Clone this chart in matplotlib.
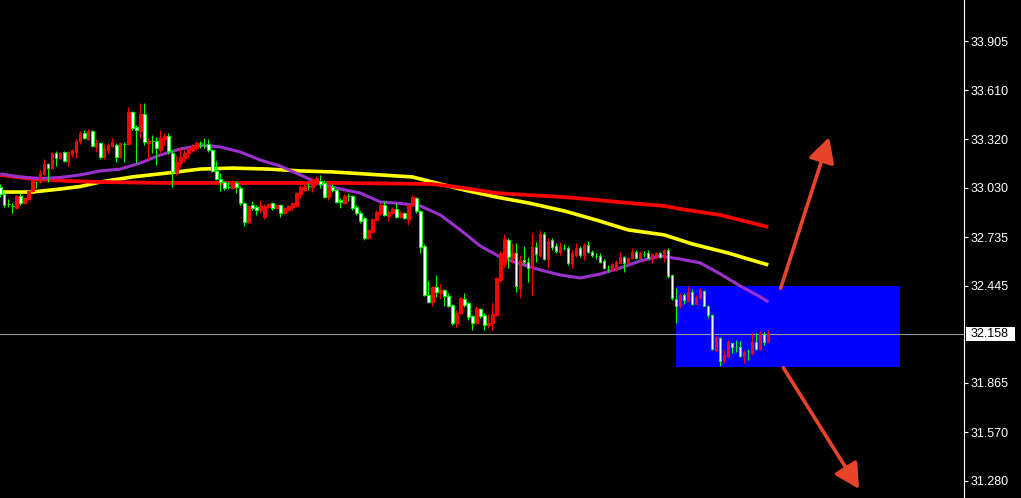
import numpy as np
import matplotlib.pyplot as plt
from matplotlib.patches import Rectangle

plt.rcParams['font.family'] = ['Liberation Sans', 'DejaVu Sans']

# OHLC bars, one per candle index
opens = [33.034, 32.992, 32.933, 32.921, 32.909, 32.980, 32.939, 32.962, 33.010, 33.064,
         33.064, 33.112, 33.171, 33.147, 33.237, 33.207, 33.243, 33.183, 33.231, 33.243,
         33.309, 33.356, 33.320, 33.368, 33.273, 33.297, 33.213, 33.255, 33.279, 33.285,
         33.213, 33.291, 33.291, 33.482, 33.392, 33.368, 33.470, 33.297, 33.309, 33.309,
         33.255, 33.320, 33.338, 33.237, 33.124, 33.177, 33.207, 33.237, 33.255, 33.267,
         33.297, 33.285, 33.291, 33.255, 33.130, 33.082, 33.064, 33.034, 33.028, 33.058,
         33.028, 32.939, 32.825, 32.927, 32.915, 32.897, 32.855, 32.915, 32.939, 32.909,
         32.927, 32.879, 32.897, 32.915, 32.921, 32.992, 33.016, 33.040, 33.034, 33.058,
         33.070, 33.058, 32.974, 33.034, 33.016, 32.957, 32.939, 32.980, 32.980, 32.915,
         32.879, 32.849, 32.730, 32.766, 32.837, 32.879, 32.927, 32.861, 32.879, 32.903,
         32.855, 32.879, 32.843, 32.927, 32.968, 32.891, 32.682, 32.390, 32.348, 32.437,
         32.402, 32.420, 32.384, 32.330, 32.223, 32.282, 32.366, 32.342, 32.264, 32.223,
         32.306, 32.270, 32.211, 32.223, 32.270, 32.479, 32.575, 32.718, 32.610, 32.640,
         32.431, 32.599, 32.587, 32.551, 32.676, 32.628, 32.754, 32.605, 32.718, 32.682,
         32.646, 32.670, 32.670, 32.581, 32.628, 32.670, 32.628, 32.688, 32.646, 32.622,
         32.622, 32.593, 32.545, 32.539, 32.539, 32.581, 32.616, 32.581, 32.610, 32.646,
         32.610, 32.634, 32.640, 32.604, 32.616, 32.640, 32.616, 32.658, 32.509, 32.366,
         32.324, 32.390, 32.354, 32.408, 32.336, 32.372, 32.414, 32.324, 32.270, 32.062,
         32.133, 32.002, 32.020, 32.103, 32.079, 32.079, 32.026, 32.056, 32.044, 32.109,
         32.068, 32.157, 32.109]

highs = [33.052, 32.998, 32.962, 32.939, 32.986, 32.998, 32.974, 33.016, 33.076, 33.070,
         33.136, 33.201, 33.177, 33.243, 33.249, 33.243, 33.249, 33.249, 33.261, 33.320,
         33.368, 33.374, 33.380, 33.374, 33.320, 33.303, 33.291, 33.297, 33.326, 33.297,
         33.303, 33.303, 33.511, 33.488, 33.404, 33.535, 33.535, 33.326, 33.344, 33.332,
         33.374, 33.356, 33.356, 33.255, 33.225, 33.267, 33.255, 33.273, 33.291, 33.309,
         33.309, 33.326, 33.320, 33.261, 33.189, 33.118, 33.070, 33.064, 33.076, 33.070,
         33.040, 32.945, 32.927, 32.951, 32.927, 32.957, 32.933, 32.939, 32.945, 32.933,
         32.933, 32.915, 32.927, 32.945, 33.004, 33.046, 33.052, 33.058, 33.088, 33.100,
         33.106, 33.076, 33.046, 33.052, 33.022, 32.968, 32.992, 32.998, 32.986, 32.927,
         32.891, 32.855, 32.783, 32.849, 32.897, 32.939, 32.951, 32.897, 32.915, 32.939,
         32.891, 32.885, 32.933, 32.986, 32.974, 32.897, 32.694, 32.473, 32.443, 32.509,
         32.455, 32.425, 32.402, 32.336, 32.300, 32.378, 32.402, 32.348, 32.270, 32.324,
         32.312, 32.282, 32.276, 32.348, 32.497, 32.652, 32.754, 32.730, 32.700, 32.700,
         32.628, 32.682, 32.616, 32.760, 32.706, 32.778, 32.766, 32.730, 32.730, 32.700,
         32.706, 32.694, 32.682, 32.658, 32.700, 32.682, 32.700, 32.712, 32.658, 32.640,
         32.640, 32.604, 32.569, 32.581, 32.599, 32.646, 32.622, 32.616, 32.670, 32.658,
         32.652, 32.652, 32.658, 32.640, 32.646, 32.646, 32.664, 32.670, 32.515, 32.431,
         32.402, 32.402, 32.443, 32.425, 32.390, 32.431, 32.420, 32.330, 32.276, 32.145,
         32.139, 32.062, 32.121, 32.103, 32.121, 32.115, 32.062, 32.068, 32.163, 32.163,
         32.175, 32.169, 32.181]

lows = [32.974, 32.915, 32.915, 32.879, 32.903, 32.927, 32.933, 32.957, 33.004, 33.028,
        33.058, 33.106, 33.064, 33.141, 33.159, 33.201, 33.183, 33.159, 33.213, 33.207,
        33.291, 33.320, 33.315, 33.273, 33.243, 33.201, 33.201, 33.237, 33.273, 33.183,
        33.207, 33.183, 33.285, 33.374, 33.177, 33.326, 33.285, 33.195, 33.237, 33.165,
        33.237, 33.285, 33.231, 33.034, 33.106, 33.153, 33.183, 33.207, 33.243, 33.255,
        33.267, 33.267, 33.243, 33.124, 33.076, 33.010, 33.016, 33.022, 33.022, 32.998,
        32.927, 32.801, 32.819, 32.897, 32.867, 32.885, 32.843, 32.909, 32.897, 32.903,
        32.855, 32.873, 32.891, 32.897, 32.915, 32.968, 33.010, 33.016, 33.004, 33.046,
        33.028, 32.968, 32.957, 33.004, 32.939, 32.909, 32.933, 32.951, 32.897, 32.867,
        32.819, 32.718, 32.724, 32.760, 32.831, 32.867, 32.861, 32.831, 32.873, 32.849,
        32.849, 32.843, 32.807, 32.921, 32.879, 32.640, 32.384, 32.342, 32.324, 32.378,
        32.366, 32.324, 32.318, 32.211, 32.199, 32.276, 32.318, 32.241, 32.181, 32.217,
        32.253, 32.181, 32.193, 32.181, 32.264, 32.467, 32.557, 32.551, 32.581, 32.408,
        32.372, 32.575, 32.467, 32.390, 32.587, 32.616, 32.599, 32.551, 32.658, 32.640,
        32.628, 32.658, 32.569, 32.551, 32.616, 32.616, 32.599, 32.640, 32.616, 32.604,
        32.581, 32.545, 32.527, 32.533, 32.533, 32.581, 32.527, 32.575, 32.604, 32.604,
        32.604, 32.616, 32.604, 32.581, 32.604, 32.610, 32.587, 32.491, 32.360, 32.223,
        32.312, 32.336, 32.348, 32.330, 32.336, 32.366, 32.324, 32.253, 32.062, 32.050,
        31.966, 31.984, 32.020, 32.044, 32.050, 32.020, 31.984, 32.002, 32.032, 32.062,
        32.062, 32.091, 32.109]

closes = [32.992, 32.927, 32.933, 32.921, 32.980, 32.939, 32.968, 33.010, 33.070, 33.064,
          33.118, 33.171, 33.147, 33.237, 33.207, 33.237, 33.189, 33.243, 33.255, 33.309,
          33.356, 33.326, 33.368, 33.279, 33.297, 33.213, 33.267, 33.285, 33.303, 33.213,
          33.297, 33.291, 33.482, 33.386, 33.374, 33.470, 33.303, 33.309, 33.309, 33.267,
          33.326, 33.338, 33.249, 33.124, 33.183, 33.213, 33.237, 33.267, 33.279, 33.297,
          33.297, 33.285, 33.255, 33.130, 33.082, 33.064, 33.028, 33.034, 33.070, 33.034,
          32.939, 32.825, 32.921, 32.909, 32.897, 32.921, 32.921, 32.933, 32.909, 32.927,
          32.879, 32.909, 32.921, 32.939, 32.998, 33.034, 33.040, 33.040, 33.076, 33.088,
          33.052, 32.974, 33.034, 33.016, 32.945, 32.945, 32.980, 32.980, 32.909, 32.879,
          32.831, 32.730, 32.778, 32.843, 32.885, 32.927, 32.867, 32.885, 32.903, 32.855,
          32.879, 32.849, 32.927, 32.974, 32.891, 32.676, 32.390, 32.348, 32.437, 32.408,
          32.420, 32.384, 32.324, 32.223, 32.282, 32.372, 32.330, 32.259, 32.223, 32.312,
          32.264, 32.211, 32.223, 32.276, 32.491, 32.640, 32.724, 32.616, 32.640, 32.443,
          32.599, 32.587, 32.551, 32.676, 32.634, 32.754, 32.605, 32.712, 32.676, 32.652,
          32.676, 32.670, 32.581, 32.640, 32.670, 32.628, 32.688, 32.646, 32.628, 32.622,
          32.587, 32.551, 32.545, 32.575, 32.587, 32.616, 32.581, 32.610, 32.646, 32.610,
          32.640, 32.634, 32.610, 32.634, 32.640, 32.616, 32.658, 32.503, 32.372, 32.324,
          32.390, 32.360, 32.408, 32.336, 32.378, 32.420, 32.324, 32.270, 32.068, 32.139,
          31.996, 32.032, 32.109, 32.079, 32.079, 32.026, 32.050, 32.056, 32.109, 32.068,
          32.157, 32.109, 32.158]

# moving averages, sampled at candle indices
ma_fast_idx = [0, 5, 10, 15, 20, 25, 30, 35, 40, 45, 50, 55, 60, 65, 70, 75, 80, 85, 90, 95,
               100, 105, 110, 115, 120, 125, 130, 135, 140, 145, 150, 155, 160, 165, 170, 175,
               180, 185, 190, 192]
ma_fast = [33.112, 33.094, 33.085, 33.091, 33.106, 33.130, 33.141, 33.177, 33.225, 33.261,
           33.282, 33.273, 33.243, 33.195, 33.159, 33.106, 33.052, 33.022, 32.998, 32.945,
           32.936, 32.921, 32.867, 32.778, 32.682, 32.616, 32.575, 32.539, 32.509, 32.491,
           32.515, 32.551, 32.593, 32.622, 32.604, 32.581, 32.515, 32.443, 32.378, 32.348]

ma_mid_idx = [0, 8, 15, 20, 25, 33, 42, 50, 58, 67, 75, 83, 95, 103, 109, 116, 124, 132,
              141, 149, 157, 166, 173, 182, 187, 192]
ma_mid = [33.004, 33.004, 33.022, 33.037, 33.064, 33.094, 33.118, 33.141, 33.147, 33.141,
          33.130, 33.124, 33.106, 33.094, 33.058, 33.016, 32.974, 32.939, 32.891, 32.837,
          32.778, 32.748, 32.694, 32.640, 32.604, 32.569]

ma_slow_idx = [0, 8, 17, 25, 42, 58, 75, 85, 108, 116, 124, 132, 141, 149, 157, 166, 170,
               180, 192]
ma_slow = [33.106, 33.082, 33.070, 33.064, 33.058, 33.058, 33.058, 33.058, 33.052, 33.028,
           32.998, 32.986, 32.974, 32.957, 32.939, 32.921, 32.903, 32.867, 32.795]

# price scale labels
price_ticks = [33.905, 33.610, 33.320, 33.030, 32.735, 32.445, 31.865, 31.570, 31.280]

# highlighted zone and the two scenario arrows
zone_left, zone_right = 168.9, 224.9
zone_low, zone_high = 31.960, 32.445
arrow_up = ((195.1, 32.430), (207.2, 33.331))
arrow_down = ((195.75, 31.956), (214.7, 31.232))

o = np.array(opens)
h = np.array(highs)
l = np.array(lows)
c = np.array(closes)
x = np.arange(len(c))
bull = c > o

fig = plt.figure(figsize=(10.21, 4.98), dpi=100, facecolor='black')
ax = fig.add_axes([0, 0, 964 / 1021, 1])
ax.set_facecolor('black')

ax.add_patch(Rectangle((zone_left, zone_low), zone_right - zone_left, zone_high - zone_low,
                       facecolor='#0000ff', edgecolor='none', zorder=1))

ax.plot(ma_mid_idx, ma_mid, color='#ffff00', lw=2.6, zorder=2, solid_capstyle='butt')
ax.plot(ma_slow_idx, ma_slow, color='#ff0000', lw=2.7, zorder=2.1, solid_capstyle='butt')
ax.plot(ma_fast_idx, ma_fast, color='#9932cc', lw=2.2, zorder=2.2, solid_capstyle='butt')

last = c[-1]
ax.axhline(last, color='#9a9a9a', lw=0.8, zorder=3)

# wicks
ax.vlines(x[bull], l[bull], h[bull], color='#ff0000', lw=0.8, zorder=4)
ax.vlines(x[~bull], l[~bull], h[~bull], color='#00ff00', lw=0.8, zorder=4)

# bodies: red for rising bars, white with green outline for falling ones
ax.bar(x[bull], (c - o)[bull], bottom=o[bull], width=0.6, color='#ff0000',
       edgecolor='#ff0000', lw=0.7, zorder=5)
ax.bar(x[~bull], (o - c)[~bull], bottom=c[~bull], width=0.6, color='white',
       edgecolor='#00ff00', lw=0.7, zorder=5)

arrow_kw = dict(arrowstyle='-|>,head_length=0.75,head_width=0.4', color='#e8432b',
                lw=2.6, shrinkA=0, shrinkB=0, mutation_scale=20, capstyle='round')
for start, tip in (arrow_up, arrow_down):
    ax.annotate('', xy=tip, xytext=start, arrowprops=arrow_kw, zorder=6,
                annotation_clip=False)

ax.set_xlim(-0.075, 240.925)
ax.set_ylim(31.178, 34.150)

ax.set_xticks([])
ax.yaxis.tick_right()
ax.set_yticks(price_ticks)
ax.set_yticklabels(['%.3f' % v for v in price_ticks])
ax.tick_params(axis='y', colors='white', length=3, width=0.8, pad=2, labelsize=9)
for side in ('left', 'top', 'bottom'):
    ax.spines[side].set_visible(False)
ax.spines['right'].set_color('white')
ax.spines['right'].set_linewidth(0.8)

# current price tag on the scale
px = (34.150 - 31.178) / 498
ax.add_patch(Rectangle((966 / 964, last - 7 * px), 49 / 964, 14 * px, facecolor='white',
                       edgecolor='none', transform=ax.get_yaxis_transform(), clip_on=False,
                       zorder=7))
ax.text(971 / 964, last, '%.3f' % last, color='black', fontsize=9, va='center', ha='left',
        transform=ax.get_yaxis_transform(), clip_on=False, zorder=8)

fig.savefig('out.png', dpi=100, facecolor='black')
